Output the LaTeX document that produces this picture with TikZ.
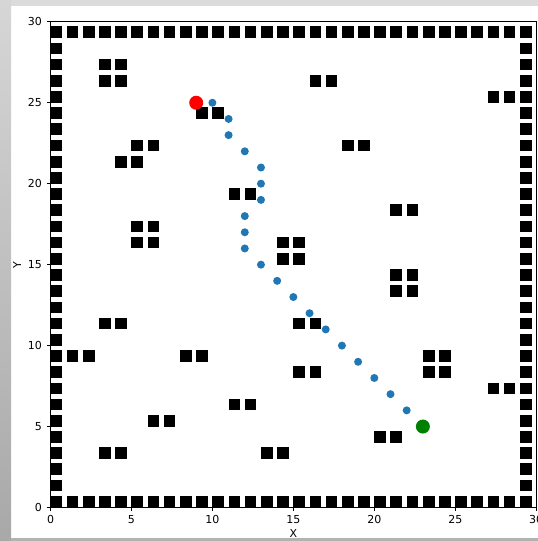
\documentclass[tikz,border=0pt]{standalone}
\usepackage{fontspec}
\setmainfont{DejaVu Sans}
\definecolor{tabblue}{RGB}{31,119,180}
\definecolor{mplgreen}{RGB}{0,128,0}
\definecolor{mplred}{RGB}{255,0,0}
\tikzset{
  obst/.style={fill=black},
  pathdot/.style={circle,fill=tabblue,inner sep=0pt,minimum size=8pt},
  startdot/.style={circle,fill=mplred,inner sep=0pt,minimum size=14pt},
  goaldot/.style={circle,fill=mplgreen,inner sep=0pt,minimum size=14pt},
  ticklab/.style={inner sep=0pt,font=\fontsize{11}{13}\selectfont},
  axlab/.style={inner sep=0pt,font=\fontsize{11}{13}\selectfont}
}
\begin{document}
\begin{tikzpicture}[x=1pt,y=1pt]
\useasboundingbox (0,0) rectangle (538,541);
\fill[white] (0,0) rectangle (538,541);
\shade[top color=black!16,bottom color=black!34] (0,0) rectangle (11,541);
\fill[black!14] (11,535) rectangle (538,541);
\fill[black!30] (11,0) rectangle (538,3);
\begin{scope}[shift={(50.5pt,33.5pt)},x=16.19pt,y=16.19pt]
  % walls
  \foreach \i in {0,...,29}{
    \fill[obst] (\i,0) rectangle ++(0.72,0.72);
    \fill[obst] (\i,29) rectangle ++(0.72,0.72);
    \fill[obst] (0,\i) rectangle ++(0.72,0.72);
    \fill[obst] (29,\i) rectangle ++(0.72,0.72);
  }
  % interior obstacles
  \foreach \a/\b in {3/27,4/27,3/26,4/26,16/26,17/26,27/25,28/25,9/24,10/24,5/22,6/22,18/22,19/22,4/21,5/21,11/19,12/19,21/18,22/18,5/17,6/17,5/16,6/16,14/16,15/16,14/15,15/15,21/14,22/14,21/13,22/13,3/11,4/11,15/11,16/11,1/9,2/9,8/9,9/9,23/9,24/9,23/8,24/8,15/8,16/8,27/7,28/7,11/6,12/6,6/5,7/5,20/4,21/4,3/3,4/3,13/3,14/3}{
    \fill[obst] (\a,\b) rectangle ++(0.72,0.72);
  }
  % frame and ticks
  \draw[line width=0.9pt] (0,0) rectangle (30,30);
  \foreach \t in {0,5,...,30}{
    \draw[line width=0.8pt] (\t,0) -- ++(0,-3.5pt);
    \draw[line width=0.8pt] (0,\t) -- ++(-3.5pt,0);
    \node[ticklab,anchor=north] (xt\t) at ([yshift=-7.5pt]\t,0) {\t};
    \node[ticklab,anchor=east] (yt\t) at ([xshift=-8.5pt]0,\t) {\t};
  }
  \node[axlab] (xlab) at ([yshift=-25.5pt]15,0) {X};
  \node[axlab,rotate=90] (ylab) at ([xshift=-33.5pt]0,15) {Y};
  % path
  \foreach \a/\b [count=\k] in {10/25,11/24,11/23,12/22,13/21,13/20,13/19,12/18,12/17,12/16,13/15,14/14,15/13,16/12,17/11,18/10,19/9,20/8,21/7,22/6}{
    \node[pathdot] (p\k) at (\a,\b) {};
  }
  \node[startdot] (start) at (9,25) {};
  \node[goaldot] (goal) at (23,5) {};
\end{scope}
\end{tikzpicture}
\end{document}
